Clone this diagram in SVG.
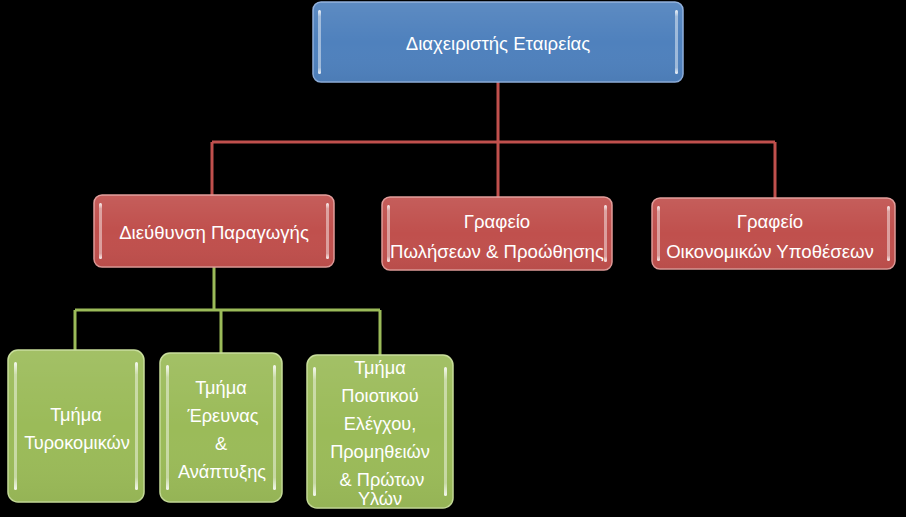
<svg xmlns="http://www.w3.org/2000/svg" width="906" height="517" viewBox="0 0 906 517">
<defs>
<linearGradient id="hl" x1="0" y1="0" x2="0" y2="1">
<stop offset="0" stop-color="#fff" stop-opacity="0.9"/>
<stop offset="0.1" stop-color="#fff" stop-opacity="0.45"/>
<stop offset="0.9" stop-color="#fff" stop-opacity="0.45"/>
<stop offset="1" stop-color="#fff" stop-opacity="0.9"/>
</linearGradient>
<linearGradient id="shade" x1="0" y1="0" x2="0" y2="1">
<stop offset="0" stop-color="#fff" stop-opacity="0.08"/>
<stop offset="0.5" stop-color="#fff" stop-opacity="0"/>
<stop offset="1" stop-color="#000" stop-opacity="0.04"/>
</linearGradient>
</defs>
<style>
.bg{fill:#000}
.blue{fill:#4f81bd;stroke:#8eaedb;stroke-width:1.5}
.red{fill:#c0504d;stroke:#e09a98;stroke-width:1.5}
.green{fill:#9bbb59;stroke:#c6dc98;stroke-width:1.5}
.gl{fill:url(#shade)}
.hl{fill:url(#hl)}
.t{font-family:"Liberation Sans",Arial,sans-serif;font-size:18.6px;fill:#fff;text-anchor:middle}
.ts{font-family:"Liberation Sans",Arial,sans-serif;font-size:18.2px;fill:#fff;text-anchor:middle}
.cr{stroke:#c0504d;stroke-width:3;fill:none}
.cg{stroke:#9bbb59;stroke-width:3;fill:none}
</style>
<rect class="bg" x="0" y="0" width="906" height="517"/>
<g id="connectors">
<path class="cr" d="M498 82 V142 M212 142 H775 M212 142 V195 M498 142 V197 M775 142 V198"/>
<path class="cg" d="M214 267 V310 M75 310 H380 M75 310 V350 M221 310 V353 M380 310 V355"/>
</g>
<g id="n-top">
<rect class="blue" x="313" y="2" width="370" height="80" rx="8"/>
<rect class="gl" x="313" y="2" width="370" height="80" rx="8"/>
<rect class="hl" x="318" y="10" width="3" height="64" rx="1.5"/>
<rect class="hl" x="675" y="10" width="3" height="64" rx="1.5"/>
<text class="t" x="498" y="50">Διαχειριστής Εταιρείας</text>
</g>
<g id="n-prod">
<rect class="red" x="94" y="195" width="240" height="72" rx="8"/>
<rect class="gl" x="94" y="195" width="240" height="72" rx="8"/>
<rect class="hl" x="99" y="203" width="3" height="56" rx="1.5"/>
<rect class="hl" x="326" y="203" width="3" height="56" rx="1.5"/>
<text class="t" x="214" y="239">Διεύθυνση Παραγωγής</text>
</g>
<g id="n-sales">
<rect class="red" x="382" y="197" width="230" height="73" rx="8"/>
<rect class="gl" x="382" y="197" width="230" height="73" rx="8"/>
<rect class="hl" x="387" y="205" width="3" height="57" rx="1.5"/>
<rect class="hl" x="604" y="205" width="3" height="57" rx="1.5"/>
<text class="t" x="497" y="228">Γραφείο</text>
<text class="t" x="497" y="258">Πωλήσεων &amp; Προώθησης</text>
</g>
<g id="n-fin">
<rect class="red" x="652" y="198" width="243" height="71" rx="8"/>
<rect class="gl" x="652" y="198" width="243" height="71" rx="8"/>
<rect class="hl" x="657" y="206" width="3" height="55" rx="1.5"/>
<rect class="hl" x="887" y="206" width="3" height="55" rx="1.5"/>
<text class="t" x="770" y="228">Γραφείο</text>
<text class="t" x="770" y="258">Οικονομικών Υποθέσεων</text>
</g>
<g id="n-cheese">
<rect class="green" x="8" y="350" width="136" height="152" rx="10"/>
<rect class="gl" x="8" y="350" width="136" height="152" rx="10"/>
<rect class="hl" x="14" y="362" width="3" height="128" rx="1.5"/>
<rect class="hl" x="135" y="362" width="3" height="128" rx="1.5"/>
<text class="ts" x="76" y="421">Τμήμα</text>
<text class="ts" x="77" y="449">Τυροκομικών</text>
</g>
<g id="n-rnd">
<rect class="green" x="160" y="353" width="122" height="149" rx="10"/>
<rect class="gl" x="160" y="353" width="122" height="149" rx="10"/>
<rect class="hl" x="166" y="365" width="3" height="125" rx="1.5"/>
<rect class="hl" x="273" y="365" width="3" height="125" rx="1.5"/>
<text class="ts" x="221" y="394">Τμήμα</text>
<text class="ts" x="223" y="422">Έρευνας</text>
<text class="ts" x="221" y="450">&amp;</text>
<text class="ts" x="222" y="478">Ανάπτυξης</text>
</g>
<g id="n-qc">
<rect class="green" x="307" y="355" width="146" height="153" rx="10"/>
<rect class="gl" x="307" y="355" width="146" height="153" rx="10"/>
<rect class="hl" x="313" y="367" width="3" height="129" rx="1.5"/>
<rect class="hl" x="444" y="367" width="3" height="129" rx="1.5"/>
<text class="ts" x="380" y="374">Τμήμα</text>
<text class="ts" x="380" y="402">Ποιοτικού</text>
<text class="ts" x="380" y="430">Ελέγχου,</text>
<text class="ts" x="380" y="458">Προμηθειών</text>
<text class="ts" x="382" y="486">&amp; Πρώτων</text>
<text class="ts" x="380" y="505">Υλών</text>
</g>
</svg>
